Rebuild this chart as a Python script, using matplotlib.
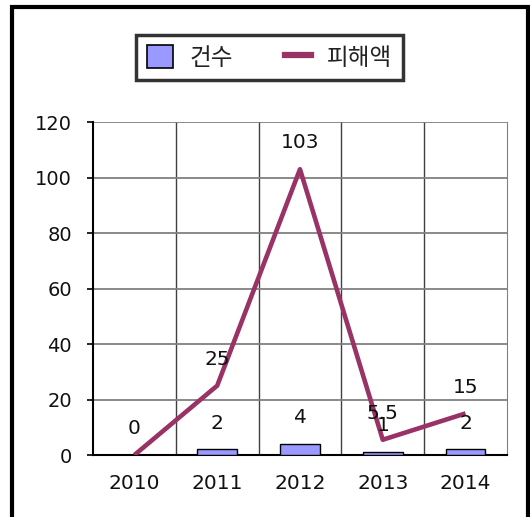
import numpy as np
import matplotlib
matplotlib.use("Agg")
import matplotlib.pyplot as plt
from matplotlib.patches import Rectangle, Patch
from matplotlib.lines import Line2D

plt.rcParams['font.family'] = ['DejaVu Sans', 'Noto Sans CJK KR']

years = ['2010', '2011', '2012', '2013', '2014']
cases = [0, 2, 4, 1, 2]            # 건수
damage = [0, 25, 103, 5.5, 15]     # 피해액
damage_labels = ['0', '25', '103', '5.5', '15']

bar_color = '#9999FF'
line_color = '#993366'

fig = plt.figure(figsize=(5.30, 5.17), dpi=100)
ax = fig.add_axes([0.1755, 0.1199, 0.781, 0.644])

x = np.arange(len(years))
ax.bar(x, cases, width=0.48, color=bar_color, edgecolor='black', linewidth=1, zorder=3)
ax.plot(x, damage, color=line_color, linewidth=3.3, zorder=4, solid_capstyle='butt')

for xi, v in zip(x, cases):
    ax.annotate(str(v), (xi, v), xytext=(0, 19), textcoords='offset points',
                ha='center', va='center', fontsize=14.5, color='#111111', zorder=5)
for xi, v, s in zip(x, damage, damage_labels):
    if xi == 0:
        continue  # same spot as the bar label "0"
    ax.annotate(s, (xi, v), xytext=(0, 19), textcoords='offset points',
                ha='center', va='center', fontsize=14.5, color='#111111', zorder=5)

ax.set_xlim(-0.5, 4.5)
ax.set_ylim(0, 120)
ax.set_yticks(range(0, 121, 20))
ax.set_xticks(x)
ax.set_xticklabels(years)

for b in [0.5, 1.5, 2.5, 3.5]:
    ax.axvline(b, color='#404040', linewidth=1, zorder=1)
for t in range(20, 121, 20):
    ax.axhline(t, color='#808080', linewidth=1.3, zorder=1)

ax.spines['left'].set_color('black')
ax.spines['left'].set_linewidth(1.5)
ax.spines['bottom'].set_color('black')
ax.spines['bottom'].set_linewidth(1.5)
ax.spines['right'].set_color('#808080')
ax.spines['top'].set_visible(False)

ax.tick_params(axis='y', direction='out', length=4, width=1.2, pad=11,
               labelsize=14, labelcolor='#111111')
ax.tick_params(axis='x', length=0, pad=14, labelsize=14.5, labelcolor='#111111')

handles = [Patch(facecolor=bar_color, edgecolor='black', linewidth=1.2),
           Line2D([0], [0], color=line_color, linewidth=4.5)]
leg = fig.legend(handles, ['건수', '피해액'], loc='center',
                 bbox_to_anchor=(0.509, 0.889), ncol=2, fontsize=17,
                 frameon=True, fancybox=False, edgecolor='black',
                 handlelength=1.1, handleheight=1.1, columnspacing=2.2,
                 borderpad=0.45, handletextpad=0.7, labelcolor='#222222')
leg.get_frame().set_linewidth(2.5)

fig.patches.append(Rectangle((12/530, -0.05), (528-12)/530, 1.05 - 7/517,
                             transform=fig.transFigure, fill=False,
                             edgecolor='black', linewidth=3))

fig.savefig('out.png', dpi=100)
